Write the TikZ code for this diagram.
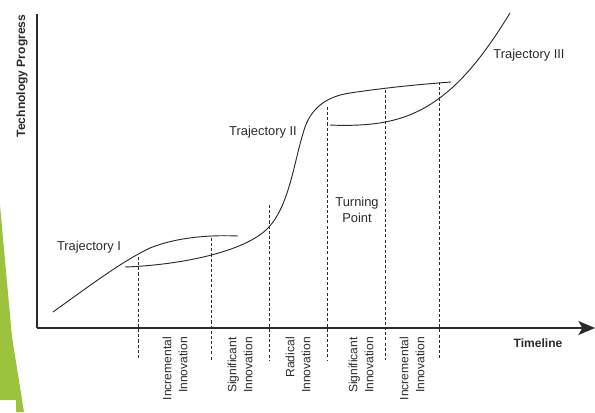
\documentclass[tikz,border=0pt]{standalone}
\usepackage{fontspec}
\setmainfont{Liberation Sans}
\usepackage{xcolor}
\usepackage{tikz}
\usetikzlibrary{arrows.meta,positioning,calc}

\definecolor{slidegreen}{HTML}{9BC33E}
\definecolor{inkgray}{HTML}{2B2B2B}

\begin{document}
\begin{tikzpicture}[
  x=0.03cm, y=-0.03cm,
  font=\fontsize{11}{13}\selectfont,
  axis/.style={inkgray, line width=1.2pt},
  curve/.style={inkgray, line width=0.8pt},
  phase/.style={inkgray, line width=0.6pt, dash pattern=on 2.6pt off 1.8pt},
  phaselabel/.style={rotate=90, anchor=east, align=right, inner sep=0pt, text=inkgray,
    font=\fontsize{10.3}{13.6}\selectfont},
  axislabel/.style={text=inkgray, font=\fontsize{10.3}{12}\selectfont\bfseries},
  trajlabel/.style={text=inkgray, inner sep=1pt}
]
\useasboundingbox (0,0) rectangle (595,412);
% slide decoration
\fill[slidegreen] (0,205) -- (12,337) -- (24,412) -- (16,412) -- (16,400) -- (0,400) -- cycle;
% axis
\coordinate (origin) at (37,328);
\coordinate (ytop) at (37,14);
\coordinate (xend) at (595,328);
\draw[axis] (ytop) -- (origin);
\draw[axis, -{Stealth[length=0.5cm, width=0.42cm, inset=0.12cm]}] (origin) -- (xend);
\node[axislabel, rotate=90] (ylab) at (22,76) {Technology Progress};
\node[axislabel] (xlab) at (538,343) {Timeline};
% phase borders
\foreach \x/\ytop [count=\i] in {138/257, 211/238, 269/205, 327/107, 385/90, 439/82} {
  \coordinate (top\i) at (\x,\ytop);
  \coordinate (bot\i) at (\x,360);
  \draw[phase] (top\i) -- (bot\i);
}
% phase labels
\foreach \x/\lab [count=\i] in {175/Incremental\\Innovation, 240/Significant\\Innovation,
    298/Radical\\Innovation, 361/Significant\\Innovation, 412/Incremental\\Innovation} {
  \node[phaselabel] (phase\i) at (\x,337) {\lab};
}
% trajectories
\coordinate (t1a) at (53,312);
\coordinate (t1b) at (150,248);
\coordinate (t1c) at (238,236);
\draw[curve] (t1a) .. controls (100,278) and (125,260) .. (t1b)
  .. controls (180,236) and (215,235) .. (t1c);
\coordinate (t2a) at (125,267);
\coordinate (t2b) at (268,228);
\coordinate (t2c) at (305,127);
\coordinate (t2d) at (350,93);
\coordinate (t2e) at (451,82);
\draw[curve] (t2a) .. controls (180,265) and (245,252) .. (t2b)
  .. controls (290,205) and (294,160) .. (t2c)
  .. controls (313,105) and (330,96) .. (t2d)
  .. controls (390,87) and (425,84) .. (t2e);
\coordinate (t3a) at (330,125);
\coordinate (t3b) at (385,122);
\coordinate (t3c) at (510,13);
\draw[curve] (t3a) .. controls (350,126) and (370,125) .. (t3b)
  .. controls (440,112) and (475,70) .. (t3c);
% labels
\node[trajlabel] (traj1) at (89,247) {Trajectory I};
\node[trajlabel] (traj2) at (263,132) {Trajectory II};
\node[trajlabel] (traj3) at (529,55) {Trajectory III};
\node[trajlabel, align=center] (turn) at (357,210) {Turning\\Point};
\end{tikzpicture}
\end{document}
